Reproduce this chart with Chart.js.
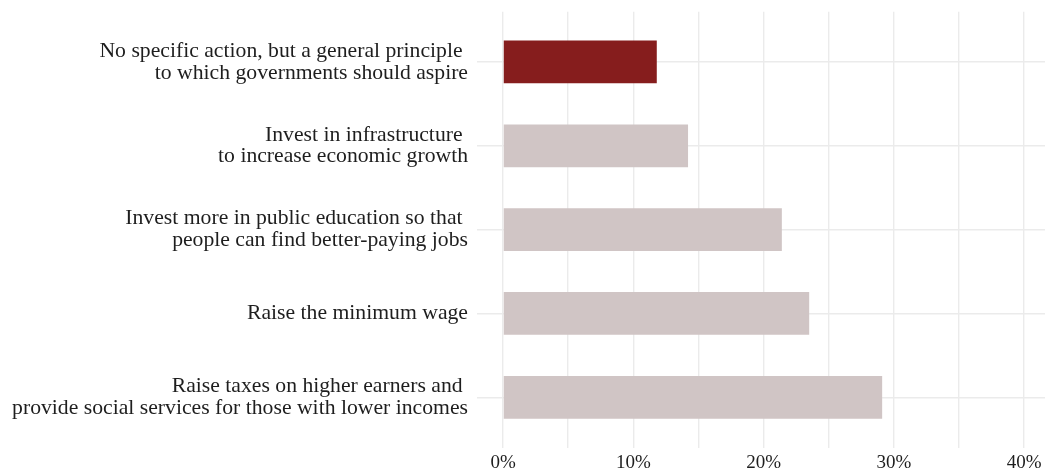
<!DOCTYPE html>
<html>
<head>
<meta charset="utf-8">
<script src="https://cdn.jsdelivr.net/npm/chart.js@4/dist/chart.umd.min.js"></script>
<style>
    html, body { margin: 0; padding: 0; background: #ffffff; }
    #wrap { width: 1045px; height: 473px; position: relative; }
</style>
</head>
<body>
<div id="wrap"><canvas id="myChart"></canvas></div>
<script>
// answers, top to bottom (first lines keep the trailing space of the original)
const categories = [
    ['No specific action, but a general principle ', 'to which governments should aspire'],
    ['Invest in infrastructure ', 'to increase economic growth'],
    ['Invest more in public education so that ', 'people can find better-paying jobs'],
    ['Raise the minimum wage'],
    ['Raise taxes on higher earners and ', 'provide social services for those with lower incomes']
];
const shares = [11.8, 14.2, 21.4, 23.5, 29.1];
const xTicks = [0, 10, 20, 30, 40];

const CONFIG_BG_COLOR = ['#861d1d', '#d0c5c5', '#d0c5c5', '#d0c5c5', '#d0c5c5'];
const GRID_COLOR = '#ebebeb';
const TEXT_COLOR = '#1e1e1e';
const FONT = 'Liberation Serif, Times New Roman, serif';

function drawChart() {
    const ctx = document.getElementById('myChart').getContext('2d');
    new Chart(ctx, {
        type: 'bar',
        data: {
            datasets: [{
                data: shares.map((v, i) => ({ x: v, y: i + 1 })),
                backgroundColor: CONFIG_BG_COLOR,
                borderWidth: 0,
                barPercentage: 0.51,
                categoryPercentage: 1
            }]
        },
        options: {
            indexAxis: 'y',
            responsive: true,
            maintainAspectRatio: false,
            animation: false,
            layout: { padding: { left: 12, top: 11.7, right: 0, bottom: 0 } },
            scales: {
                x: {
                    type: 'linear',
                    min: -2,
                    max: 41.6,
                    offset: false,
                    border: { display: false },
                    grid: { color: GRID_COLOR, lineWidth: 1.4, drawTicks: false, offset: false },
                    ticks: {
                        stepSize: 5,
                        includeBounds: false,
                        autoSkip: false,
                        maxRotation: 0,
                        padding: 4,
                        color: TEXT_COLOR,
                        font: { family: FONT, size: 19 },
                        callback: v => xTicks.includes(v) ? v + '%' : ''
                    },
                    afterFit: s => { s.height = 25.4; s.paddingLeft = 0; s.paddingRight = 0; }
                },
                y: {
                    type: 'linear',
                    reverse: true,
                    min: 0.4,
                    max: 5.6,
                    offset: false,
                    border: { display: false },
                    grid: { color: GRID_COLOR, lineWidth: 1.4, drawTicks: false, offset: false },
                    ticks: {
                        stepSize: 1,
                        includeBounds: false,
                        autoSkip: false,
                        padding: 9,
                        color: TEXT_COLOR,
                        font: { family: FONT, size: 21.7, lineHeight: 1.0 },
                        callback: v => Number.isInteger(v) ? categories[v - 1] : ''
                    },
                    // labels sit well inside the axis, no extra room needed at the ends
                    afterFit: s => { s.width = 465; s.paddingTop = 0; s.paddingBottom = 0; }
                }
            },
            plugins: {
                legend: { display: false },
                tooltip: { enabled: false }
            }
        }
    });
}

drawChart();
</script>
</body>
</html>
